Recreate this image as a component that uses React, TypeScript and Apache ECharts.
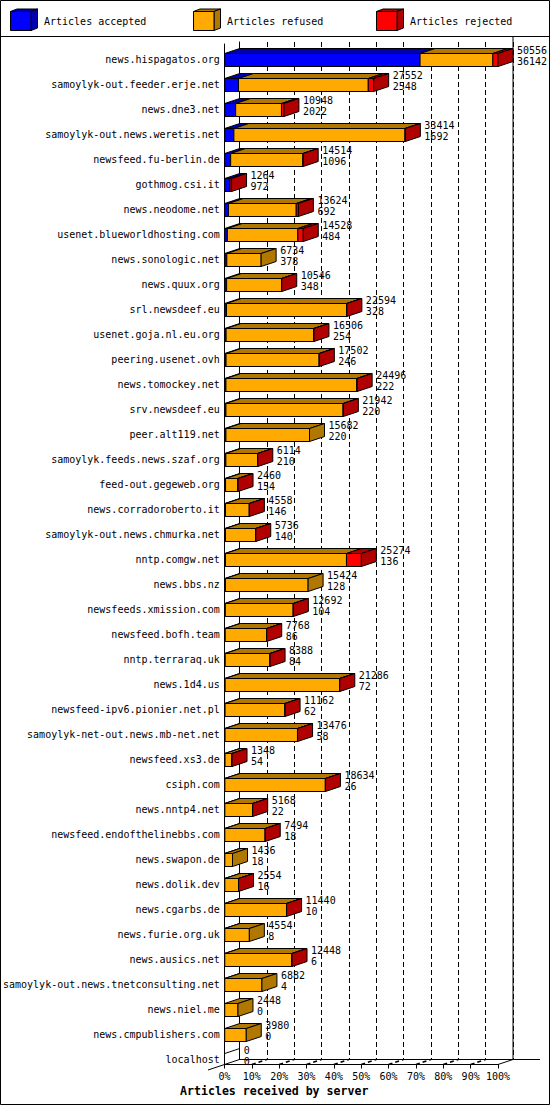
import React, { useEffect, useRef } from 'react';
import * as echarts from 'echarts';

const SERIES_NAMES = ['Articles accepted', 'Articles refused', 'Articles rejected'];
const AXIS_TITLE = 'Articles received by server';

const HOSTS = [
  'news.hispagatos.org',
  'samoylyk-out.feeder.erje.net',
  'news.dne3.net',
  'samoylyk-out.news.weretis.net',
  'newsfeed.fu-berlin.de',
  'gothmog.csi.it',
  'news.neodome.net',
  'usenet.blueworldhosting.com',
  'news.sonologic.net',
  'news.quux.org',
  'srl.newsdeef.eu',
  'usenet.goja.nl.eu.org',
  'peering.usenet.ovh',
  'news.tomockey.net',
  'srv.newsdeef.eu',
  'peer.alt119.net',
  'samoylyk.feeds.news.szaf.org',
  'feed-out.gegeweb.org',
  'news.corradoroberto.it',
  'samoylyk-out.news.chmurka.net',
  'nntp.comgw.net',
  'news.bbs.nz',
  'newsfeeds.xmission.com',
  'newsfeed.bofh.team',
  'nntp.terraraq.uk',
  'news.1d4.us',
  'newsfeed-ipv6.pionier.net.pl',
  'samoylyk-net-out.news.mb-net.net',
  'newsfeed.xs3.de',
  'csiph.com',
  'news.nntp4.net',
  'newsfeed.endofthelinebbs.com',
  'news.swapon.de',
  'news.dolik.dev',
  'news.cgarbs.de',
  'news.furie.org.uk',
  'news.ausics.net',
  'samoylyk-out.news.tnetconsulting.net',
  'news.niel.me',
  'news.cmpublishers.com',
  'localhost',
];

// total offered articles (upper number)
const OFFERED = [
  50556, 27552, 10948, 33414, 14514, 1264, 13624, 14528, 6734, 10546,
  22594, 16506, 17502, 24496, 21942, 15682, 6114, 2460, 4558, 5736,
  25274, 15424, 12692, 7768, 8388, 21286, 11162, 13476, 1348, 18634,
  5168, 7494, 1436, 2554, 11440, 4554, 12448, 6882, 2448, 3980, 0,
];

// accepted articles (lower number)
const ACCEPTED = [
  36142, 2548, 2022, 1692, 1096, 972, 692, 484, 378, 348,
  328, 254, 246, 222, 220, 220, 210, 154, 146, 140,
  136, 128, 104, 86, 84, 72, 62, 58, 54, 26,
  22, 18, 18, 16, 10, 8, 6, 4, 0, 0, 0,
];

// rejected articles (estimated from the red segments)
const REJECTED = [
  950, 1000, 450, 60, 40, 292, 400, 1000, 0, 30,
  50, 20, 30, 60, 40, 0, 20, 10, 12, 14,
  2750, 0, 20, 10, 16, 30, 24, 18, 8, 20,
  6, 12, 0, 4, 14, 0, 10, 0, 0, 0, 0,
];

const FRONT = ['#0000FF', '#FFAA00', '#FF0000'];
const DARK = ['#0000B0', '#B07800', '#B00000'];
const MONO = '"DejaVu Sans Mono", monospace';

const GL = 224.5; // front plane left
const GW = 273.5; // plane width
const DX = 15; // depth x
const DY = 5; // depth y
const BL = GL + DX; // back plane left
const ROW_TOP = 47;
const ROW_H = 25;
const FLOOR_Y = 1064.5;
const BACK_FLOOR_Y = FLOOR_Y - DY;
const BACK_TOP = 42;

export default function App() {
  const ref = useRef<HTMLDivElement>(null);

  useEffect(() => {
    const chart = echarts.init(ref.current!, null, { renderer: 'svg' });
    const maxOff = Math.max(...OFFERED);
    const data = HOSTS.map((h, i) => {
      const refused = Math.max(0, OFFERED[i] - ACCEPTED[i] - REJECTED[i]);
      return [
        i,
        (ACCEPTED[i] / maxOff) * 100,
        (refused / maxOff) * 100,
        (REJECTED[i] / maxOff) * 100,
        OFFERED[i],
        ACCEPTED[i],
      ];
    });

    const renderItem = (params: any, api: any) => {
      const row = api.value(0);
      const vals = [api.value(1), api.value(2), api.value(3)];
      const c0 = api.coord([0, row]);
      const x0 = c0[0];
      const cy = c0[1];
      const top = Math.floor(cy - 6.5) + 0.5;
      const bot = top + 13;
      const children: any[] = [];
      const lineStyle = { stroke: '#000', lineWidth: 1 };
      let cum = 0;
      let xs = x0;
      let last = -1;
      const fronts: any[] = [];
      const tops: any[] = [];
      for (let k = 0; k < 3; k++) {
        if (!(vals[k] > 0)) continue;
        cum += vals[k];
        const xe = api.coord([cum, row])[0];
        tops.push({
          type: 'polygon',
          shape: { points: [[xs, top], [xs + DX, top - DY], [xe + DX, top - DY], [xe, top]] },
          style: { fill: DARK[k], ...lineStyle },
        });
        fronts.push({
          type: 'polygon',
          shape: { points: [[xs, top], [xe, top], [xe, bot], [xs, bot]] },
          style: { fill: FRONT[k], ...lineStyle },
        });
        xs = xe;
        last = k;
      }
      children.push(...tops, ...fronts);
      if (last >= 0) {
        children.push({
          type: 'polygon',
          shape: { points: [[xs, top], [xs + DX, top - DY], [xs + DX, bot - DY], [xs, bot]] },
          style: { fill: DARK[last], ...lineStyle },
        });
      } else {
        children.push({
          type: 'line',
          shape: { x1: x0, y1: top, x2: x0 + DX, y2: top - DY },
          style: { ...lineStyle },
        });
      }
      children.push({
        type: 'text',
        style: {
          text: api.value(4) + '\n' + api.value(5),
          x: xs + DX + 4,
          y: top - 9,
          fill: '#000',
          fontSize: 10,
          fontFamily: MONO,
          lineHeight: 11,
          align: 'left',
          verticalAlign: 'top',
        },
      });
      return { type: 'group', children };
    };

    const graphics: any[] = [];
    // outer border and legend separator
    graphics.push({
      type: 'rect',
      shape: { x: 0.5, y: 0.5, width: 549, height: 1104 },
      style: { fill: 'none', stroke: '#000', lineWidth: 1 },
      z: 10,
    });
    graphics.push({
      type: 'line',
      shape: { x1: 0, y1: 36.5, x2: 550, y2: 36.5 },
      style: { stroke: '#000', lineWidth: 1 },
    });
    // legend cubes
    SERIES_NAMES.forEach((name, k) => {
      const bx = 10.5 + 183 * k;
      graphics.push({
        type: 'polygon',
        shape: { points: [[bx, 11.5], [bx + 6.5, 9], [bx + 27, 9], [bx + 20.5, 11.5]] },
        style: { fill: DARK[k], stroke: '#000', lineWidth: 1 },
      });
      graphics.push({
        type: 'polygon',
        shape: { points: [[bx + 20.5, 11.5], [bx + 27, 9], [bx + 27, 28], [bx + 20.5, 30.5]] },
        style: { fill: DARK[k], stroke: '#000', lineWidth: 1 },
      });
      graphics.push({
        type: 'rect',
        shape: { x: bx, y: 11.5, width: 20.5, height: 19 },
        style: { fill: FRONT[k], stroke: '#000', lineWidth: 1 },
      });
      graphics.push({
        type: 'text',
        style: {
          text: name,
          x: bx + 33.5,
          y: 21,
          fill: '#000',
          fontSize: 10,
          fontFamily: MONO,
          verticalAlign: 'middle',
        },
      });
    });
    // back plane right edge
    graphics.push({
      type: 'line',
      shape: { x1: BL + GW, y1: 36.5, x2: BL + GW, y2: BACK_FLOOR_Y },
      style: { stroke: '#000', lineWidth: 1 },
    });
    // floor
    graphics.push({
      type: 'line',
      shape: { x1: BL + GW, y1: BACK_FLOOR_Y, x2: 540, y2: BACK_FLOOR_Y },
      style: { stroke: '#000', lineWidth: 1 },
    });
    graphics.push({
      type: 'line',
      shape: { x1: 208, y1: 1070, x2: BL, y2: BACK_FLOOR_Y },
      style: { stroke: '#000', lineWidth: 1 },
    });
    graphics.push({
      type: 'line',
      shape: { x1: GL + GW, y1: FLOOR_Y, x2: BL + GW, y2: BACK_FLOOR_Y },
      style: { stroke: '#000', lineWidth: 1 },
    });
    for (let k = 1; k < 10; k++) {
      const xf = GL + (GW * k) / 10;
      graphics.push({
        type: 'line',
        shape: { x1: xf, y1: FLOOR_Y, x2: xf + DX, y2: BACK_FLOOR_Y },
        style: { stroke: '#000', lineWidth: 1.5, lineDash: [4, 3] },
      });
    }

    chart.setOption({
      animation: false,
      backgroundColor: '#fff',
      title: {
        text: AXIS_TITLE,
        left: 180,
        top: 1085,
        padding: 0,
        textStyle: { fontFamily: MONO, fontWeight: 'bold', fontSize: 11.6, color: '#000' },
      },
      grid: [
        { left: GL, top: ROW_TOP, width: GW, height: ROW_H * HOSTS.length },
        { left: BL, top: BACK_TOP, width: GW, height: BACK_FLOOR_Y - BACK_TOP },
        { left: GL, top: 44, width: GW, height: FLOOR_Y - 44 },
      ],
      xAxis: [
        { gridIndex: 0, type: 'value', min: 0, max: 100, show: false },
        {
          gridIndex: 1,
          type: 'value',
          min: 0,
          max: 100,
          interval: 10,
          axisLine: { show: true, lineStyle: { color: '#000', width: 1 } },
          axisTick: { show: false },
          axisLabel: { show: false },
          splitLine: { show: true, lineStyle: { color: '#000', width: 1, type: [5, 3] } },
        },
        {
          gridIndex: 2,
          type: 'value',
          min: 0,
          max: 100,
          interval: 10,
          axisLine: { show: true, lineStyle: { color: '#000', width: 1 } },
          axisTick: { show: true, length: 4, lineStyle: { color: '#000' } },
          axisLabel: {
            show: true,
            formatter: (v: number) => v + '%',
            fontFamily: MONO,
            fontSize: 10,
            color: '#000',
            margin: 7,
          },
          splitLine: { show: false },
        },
      ],
      yAxis: [
        {
          gridIndex: 0,
          type: 'category',
          data: HOSTS,
          inverse: true,
          axisLine: { show: false },
          axisTick: { show: false },
          splitLine: { show: false },
          axisLabel: { fontFamily: MONO, fontSize: 10, color: '#000', margin: 5 },
        },
        {
          gridIndex: 1,
          type: 'value',
          min: 0,
          max: 1,
          axisLine: { show: true, lineStyle: { color: '#000', width: 1 } },
          axisTick: { show: false },
          axisLabel: { show: false },
          splitLine: { show: false },
        },
        {
          gridIndex: 2,
          type: 'value',
          min: 0,
          max: 1,
          axisLine: { show: true, lineStyle: { color: '#000', width: 1 } },
          axisTick: { show: false },
          axisLabel: { show: false },
          splitLine: { show: false },
        },
      ],
      graphic: graphics,
      series: [
        {
          type: 'custom',
          name: 'articles',
          xAxisIndex: 0,
          yAxisIndex: 0,
          clip: false,
          z: 5,
          renderItem,
          encode: { x: [1, 2, 3], y: 0 },
          data,
        },
      ],
    });

    return () => chart.dispose();
  }, []);

  return (
    <div
      ref={ref}
      style={{ position: 'absolute', left: 0, top: 0, width: 550, height: 1105 }}
    />
  );
}
